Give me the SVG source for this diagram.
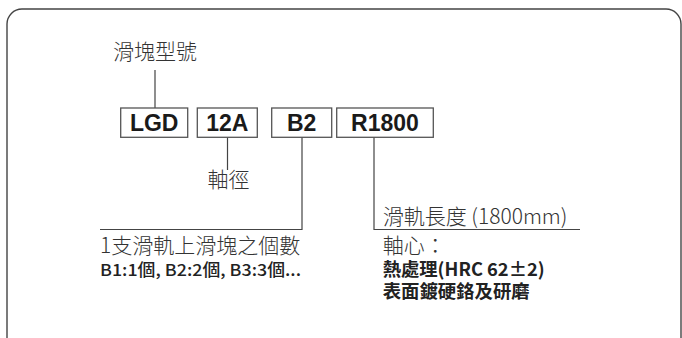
<svg xmlns="http://www.w3.org/2000/svg" width="682" height="338" viewBox="0 0 682 338">
<style>
.box{fill:#fff;stroke:#555;stroke-width:1.3}
.code{font-family:"Liberation Sans",Arial,sans-serif;font-weight:bold;font-size:23px;fill:#1a1a1a;text-anchor:middle}
.lbl{font-family:"Noto Sans CJK TC","Noto Sans CJK SC",sans-serif;font-size:21px;fill:#333;font-weight:300}
.bld{font-family:"Noto Sans CJK TC","Noto Sans CJK SC",sans-serif;font-weight:bold;fill:#222}
.med{font-family:"Noto Sans CJK TC","Noto Sans CJK SC",sans-serif;font-weight:500;fill:#222}
.ln{fill:none;stroke:#444;stroke-width:1.2}
</style>
<rect x="7" y="9" width="674" height="345" rx="15" ry="15" fill="none" stroke="#444" stroke-width="1.4"/>
<g id="connectors">
<path class="ln" d="M155 70V108"/>
<path class="ln" d="M227.5 137V170"/>
<path class="ln" d="M302 137V229.5H100"/>
<path class="ln" d="M374 137V229.5H580"/>
</g>
<g id="node-lgd"><rect class="box" x="120.7" y="108" width="67" height="29.3"/><text class="code" x="154.2" y="131">LGD</text></g>
<g id="node-12a"><rect class="box" x="197.3" y="108" width="60" height="29.3"/><text class="code" x="227.3" y="131">12A</text></g>
<g id="node-b2"><rect class="box" x="271.7" y="108" width="60" height="29.3"/><text class="code" x="301.7" y="131">B2</text></g>
<g id="node-r1800"><rect class="box" x="336.7" y="108" width="96.6" height="29.3"/><text class="code" x="385" y="131">R1800</text></g>
<g id="label-block"><text class="lbl" x="113" y="59">滑塊型號</text></g>
<g id="label-shaft"><text class="lbl" x="207.5" y="187" font-size="20.5">軸徑</text></g>
<g id="label-count">
<text class="lbl" x="100" y="253">1支滑軌上滑塊之個數</text>
<text class="med" x="100" y="276" font-size="16.5" textLength="201" lengthAdjust="spacingAndGlyphs">B1:1個, B2:2個, B3:3個...</text>
</g>
<g id="label-length">
<text class="lbl" x="382.7" y="224" font-size="20.5">滑軌長度 (1800mm)</text>
<text class="lbl" x="382.7" y="253">軸心：</text>
<text class="bld" x="382.7" y="275.5" font-size="18" textLength="162" lengthAdjust="spacingAndGlyphs">熱處理(HRC 62±2)</text>
<text class="bld" x="382.7" y="297.5" font-size="18" textLength="147" lengthAdjust="spacingAndGlyphs">表面鍍硬鉻及研磨</text>
</g>
</svg>
